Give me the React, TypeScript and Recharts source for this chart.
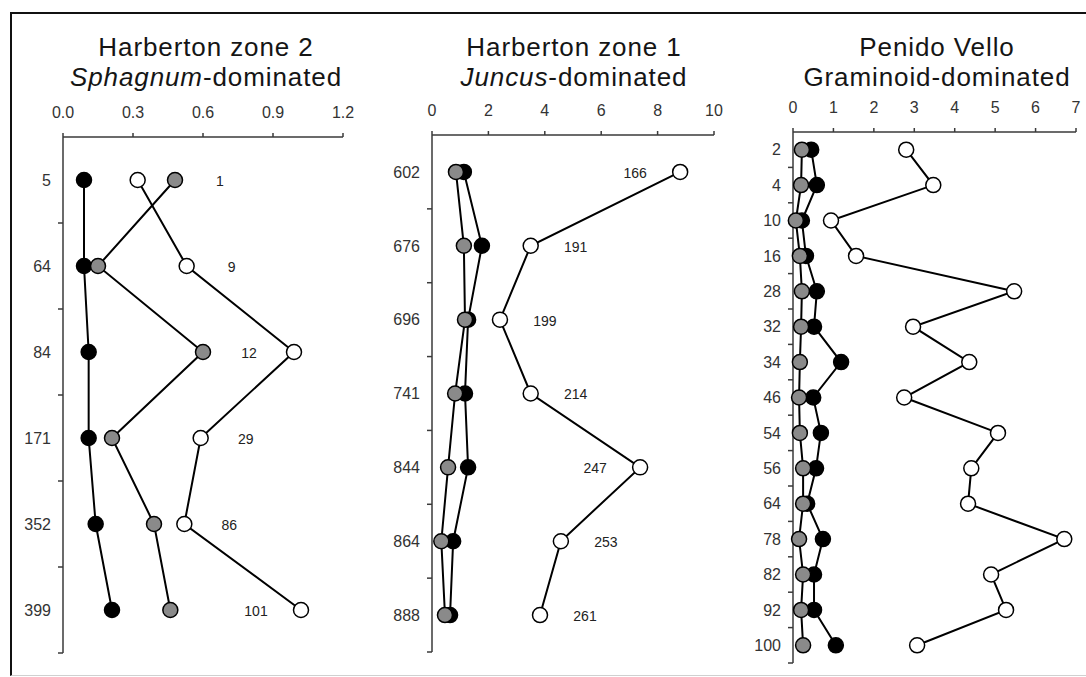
import React from 'react';
import { LineChart, Line, XAxis, YAxis, LabelList } from 'recharts';

// Harberton zone 2 (Sphagnum-dominated)
const hz2Depths = ['5', '64', '84', '171', '352', '399'];
const hz2Black = [0.09, 0.09, 0.11, 0.11, 0.14, 0.21];
const hz2Gray = [0.48, 0.15, 0.6, 0.21, 0.39, 0.46];
const hz2White = [0.32, 0.53, 0.99, 0.59, 0.52, 1.02];
const hz2Counts = [1, 9, 12, 29, 86, 101];
const hz2Ticks = [0, 0.3, 0.6, 0.9, 1.2];

// Harberton zone 1 (Juncus-dominated)
const hz1Depths = ['602', '676', '696', '741', '844', '864', '888'];
const hz1Black = [1.13, 1.77, 1.28, 1.17, 1.28, 0.75, 0.64];
const hz1Gray = [0.85, 1.13, 1.17, 0.82, 0.57, 0.33, 0.46];
const hz1White = [8.8, 3.5, 2.41, 3.5, 7.38, 4.57, 3.83];
const hz1Counts = [166, 191, 199, 214, 247, 253, 261];
const hz1Ticks = [0, 2, 4, 6, 8, 10];

// Penido Vello (Graminoid-dominated)
const pvDepths = ['2', '4', '10', '16', '28', '32', '34', '46', '54', '56', '64', '78', '82', '92', '100'];
const pvBlack = [0.45, 0.59, 0.22, 0.32, 0.59, 0.52, 1.19, 0.5, 0.69, 0.57, 0.35, 0.74, 0.52, 0.52, 1.06];
const pvGray = [0.22, 0.2, 0.07, 0.17, 0.22, 0.2, 0.17, 0.15, 0.17, 0.25, 0.25, 0.15, 0.25, 0.2, 0.25];
const pvWhite = [2.8, 3.47, 0.94, 1.56, 5.47, 2.97, 4.36, 2.75, 5.07, 4.41, 4.33, 6.71, 4.9, 5.27, 3.07];
const pvTicks = [0, 1, 2, 3, 4, 5, 6, 7];

const FONT = '"Liberation Sans", Arial, sans-serif';
const AXIS = '#3a3a3a';
const Y_AXIS_W = 60;
const X_AXIS_H = 30;
const Y_TICK_SIZE = 4;
const Y_TICK_MARGIN = 8;
const H = 677;

interface Row {
  depth: string;
  pos: number;
  black: number;
  gray: number;
  white: number;
  count?: number;
}

const buildRows = (depths: string[], black: number[], gray: number[], white: number[], counts?: number[]): Row[] =>
  depths.map((d, i) => ({
    depth: d,
    pos: i + 0.5,
    black: black[i],
    gray: gray[i],
    white: white[i],
    count: counts ? counts[i] : undefined,
  }));

interface PanelProps {
  rows: Row[];
  axisX: number;
  plotTop: number;
  plotBottom: number;
  plotW: number;
  rightPad: number;
  xTicks: number[];
  decimals: number;
}

const Panel = ({ rows, axisX, plotTop, plotBottom, plotW, rightPad, xTicks, decimals }: PanelProps) => {
  const n = rows.length;
  const xMax = xTicks[xTicks.length - 1];
  // half-steps carry the depth labels, whole steps carry the band ticks
  const yTicks: number[] = [];
  for (let i = 1; i <= n * 2; i++) yTicks.push(i / 2);

  const depthTick = (props: any) => {
    const { x, y, payload } = props;
    const v = payload.value as number;
    const ax = x + Y_TICK_SIZE + Y_TICK_MARGIN;
    if (Number.isInteger(v)) {
      return <line x1={ax - 5} x2={ax} y1={y} y2={y} stroke={AXIS} strokeWidth={1.5} />;
    }
    return (
      <text x={x} y={y} dy="0.36em" textAnchor="end" fontSize={16} fill="#333" fontFamily={FONT}>
        {rows[Math.floor(v)].depth}
      </text>
    );
  };

  const countLabel = (props: any) => {
    const { x, y, value } = props;
    const r = rows.find((row) => row.count === value);
    if (!r) return null;
    const peak = Math.max(r.black, r.gray, r.white);
    const pxPer = plotW / xMax;
    const cx = peak / xMax > 0.65 ? x - 45 : x + (peak - r.white) * pxPer + 45;
    return (
      <text x={cx} y={y} dy="0.42em" textAnchor="middle" fontSize={14} fill="#222" fontFamily={FONT}>
        {value}
      </text>
    );
  };

  const dot = (fill: string) => ({ r: 7.5, fill, stroke: '#000', strokeWidth: 1.5 });

  return (
    <div style={{ position: 'absolute', left: axisX - Y_AXIS_W, top: 0 }}>
      <LineChart
        width={Y_AXIS_W + plotW + rightPad}
        height={H}
        layout="vertical"
        data={rows}
        margin={{ top: plotTop - X_AXIS_H, right: rightPad, bottom: H - plotBottom, left: 0 }}
      >
        <XAxis
          type="number"
          orientation="top"
          domain={[0, xMax]}
          ticks={xTicks}
          interval={0}
          height={X_AXIS_H}
          tickSize={4}
          tickMargin={15}
          tickFormatter={(v: number) => v.toFixed(decimals)}
          axisLine={{ stroke: AXIS, strokeWidth: 1.5 }}
          tickLine={{ stroke: AXIS, strokeWidth: 1.5 }}
          tick={{ fontSize: 16, fill: '#333', fontFamily: FONT }}
        />
        <YAxis
          type="number"
          dataKey="pos"
          domain={[0, n]}
          ticks={yTicks}
          interval={0}
          width={Y_AXIS_W}
          tickSize={Y_TICK_SIZE}
          tickMargin={Y_TICK_MARGIN}
          tickLine={false}
          axisLine={{ stroke: AXIS, strokeWidth: 1.5 }}
          tick={depthTick}
        />
        <Line type="linear" dataKey="black" stroke="#000" strokeWidth={2} dot={dot('#000')} activeDot={false} isAnimationActive={false} />
        <Line type="linear" dataKey="gray" stroke="#000" strokeWidth={2} dot={dot('#8a8a8a')} activeDot={false} isAnimationActive={false} />
        <Line type="linear" dataKey="white" stroke="#000" strokeWidth={2} dot={dot('#fff')} activeDot={false} isAnimationActive={false}>
          {rows[0].count !== undefined && <LabelList dataKey="count" content={countLabel} />}
        </Line>
      </LineChart>
    </div>
  );
};

const titleText = {
  fontFamily: FONT,
  fontSize: 26,
  letterSpacing: '0.9px',
  fill: '#151515',
  textAnchor: 'middle' as const,
};

const Title = ({ cx, line1, line2 }: { cx: number; line1: React.ReactNode; line2: React.ReactNode }) => (
  <>
    <text x={cx} y={56} {...titleText}>{line1}</text>
    <text x={cx} y={86} {...titleText}>{line2}</text>
  </>
);

export default function App() {
  const hz2 = buildRows(hz2Depths, hz2Black, hz2Gray, hz2White, hz2Counts);
  const hz1 = buildRows(hz1Depths, hz1Black, hz1Gray, hz1White, hz1Counts);
  const pv = buildRows(pvDepths, pvBlack, pvGray, pvWhite);

  return (
    <div style={{ position: 'absolute', left: 0, top: 0, width: 1086, height: 677, overflow: 'hidden', background: '#fff' }}>
      <div
        style={{
          position: 'absolute',
          left: 10,
          top: 12,
          width: 1120,
          height: 661,
          borderLeft: '2px solid #111',
          borderTop: '2px solid #111',
          borderBottom: '1px solid #d0d0d0',
        }}
      />
      <svg width={1086} height={100} style={{ position: 'absolute', left: 0, top: 0 }}>
        <Title cx={206} line1="Harberton zone 2" line2={<><tspan fontStyle="italic">Sphagnum</tspan>-dominated</>} />
        <Title cx={574} line1="Harberton zone 1" line2={<><tspan fontStyle="italic">Juncus</tspan>-dominated</>} />
        <Title cx={937} line1="Penido Vello" line2="Graminoid-dominated" />
      </svg>
      <Panel rows={hz2} axisX={63} plotTop={137} plotBottom={653} plotW={280} rightPad={16} xTicks={hz2Ticks} decimals={1} />
      <Panel rows={hz1} axisX={432} plotTop={135} plotBottom={652} plotW={282} rightPad={16} xTicks={hz1Ticks} decimals={0} />
      <Panel rows={pv} axisX={793} plotTop={132} plotBottom={663} plotW={283} rightPad={9} xTicks={pvTicks} decimals={0} />
    </div>
  );
}
